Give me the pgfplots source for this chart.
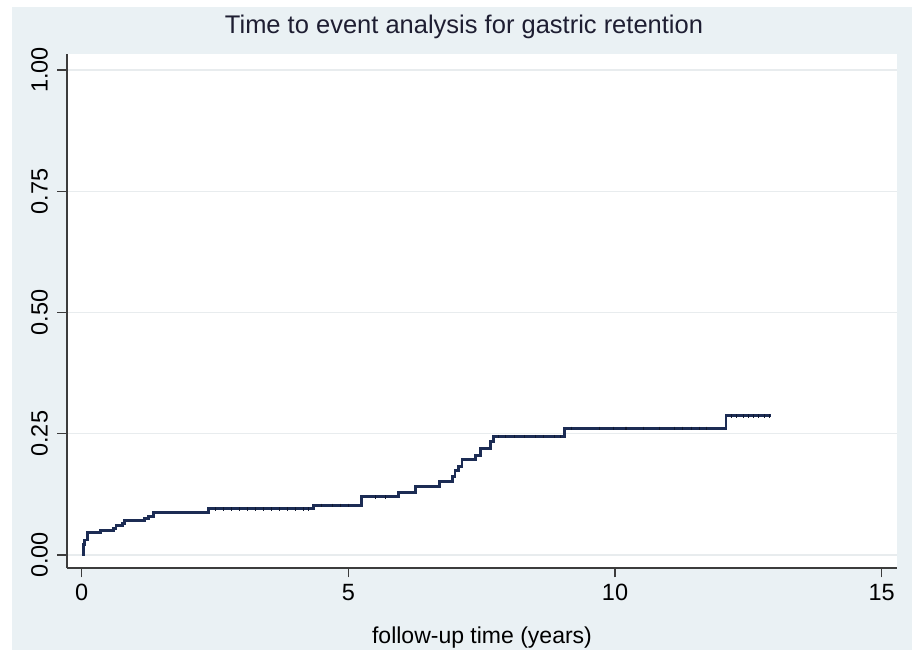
\documentclass[border=0pt]{standalone}
\usepackage{pgfplots}
\pgfplotsset{compat=1.18}
\usepackage{fontspec}
\setmainfont{Liberation Sans}
\definecolor{bgcol}{RGB}{234,241,244}
\definecolor{navyline}{RGB}{28,44,84}
\definecolor{gridcol}{RGB}{232,236,238}
\definecolor{axcol}{RGB}{60,60,60}
\definecolor{titlecol}{RGB}{30,30,50}
\begin{document}
\begin{tikzpicture}
\useasboundingbox (0,0) rectangle (912pt,650pt);
\fill[white] (0,0) rectangle (912pt,650pt);
\fill[bgcol] (12pt,0) rectangle (912pt,643pt);
\node[anchor=base, text=titlecol, font=\fontsize{25.5}{30}\selectfont] at (464pt,616pt) {Time to event analysis for gastric retention};
\begin{axis}[
  at={(67pt,82pt)}, anchor=south west,
  scale only axis, width=830pt, height=514pt,
  xmin=-0.276, xmax=15.287, ymin=-0.0268, ymax=1.033,
  axis background/.style={fill=white},
  axis x line*=bottom, axis y line*=left,
  axis line style={-, draw=axcol, line width=1.1pt},
  xtick={0,5,10,15}, ytick={0,0.25,0.5,0.75,1},
  yticklabels={0.00,0.25,0.50,0.75,1.00},
  tick align=outside, major tick length=9.5pt,
  tick style={draw=axcol, line width=1.1pt},
  ymajorgrids, major grid style={draw=gridcol, line width=1.2pt},
  /pgf/number format/assume math mode=true,
  ticklabel style={font=\fontsize{23.5}{28}\selectfont, text=black},
  yticklabel style={rotate=90, anchor=south},
  yticklabel shift=6pt, xticklabel shift=3pt,
  xlabel={follow-up time (years)},
  xlabel style={font=\fontsize{23}{28}\selectfont, at={(axis description cs:0.5,0)}, anchor=base, yshift=-75pt},
  clip=false,
]
\addplot[const plot, draw=navyline, line width=2.9pt, line join=miter] coordinates {
(0,0) (0.03,0.021) (0.06,0.031) (0.1,0.046) (0.356,0.050) (0.593,0.055)
(0.643,0.060) (0.769,0.065) (0.80,0.071) (1.17,0.076) (1.25,0.080)
(1.34,0.087) (2.37,0.095) (4.34,0.102) (5.24,0.120) (5.94,0.129)
(6.26,0.141) (6.71,0.151) (6.96,0.161) (7.00,0.174) (7.06,0.183)
(7.13,0.196) (7.38,0.206) (7.48,0.220) (7.66,0.234) (7.72,0.244)
(9.06,0.261) (12.08,0.287) (12.93,0.287)
};
\addplot[only marks, mark=|, mark size=1.8pt, draw=navyline!60!black, mark options={line width=0.9pt}] coordinates {
(2.5,0.095) (2.65,0.095) (2.8,0.095) (2.95,0.095) (3.1,0.095) (3.25,0.095)
(3.4,0.095) (3.55,0.095) (3.7,0.095) (3.85,0.095) (4.0,0.095) (4.15,0.095) (4.25,0.095)
(4.5,0.102) (4.7,0.102) (4.85,0.102) (5.0,0.102)
(5.5,0.120) (5.7,0.120)
(7.81,0.244) (7.94,0.244) (8.12,0.244) (8.31,0.244) (8.50,0.244) (8.66,0.244) (8.87,0.244) (8.97,0.244)
(9.19,0.261) (9.71,0.261) (9.97,0.261) (10.19,0.261) (10.22,0.261) (10.53,0.261)
(10.83,0.261) (11.12,0.261) (11.27,0.261) (11.44,0.261) (11.58,0.261) (11.71,0.261)
(12.19,0.287) (12.28,0.287) (12.41,0.287) (12.50,0.287) (12.59,0.287) (12.69,0.287) (12.81,0.287) (12.90,0.287)
};
\end{axis}
\end{tikzpicture}
\end{document}
